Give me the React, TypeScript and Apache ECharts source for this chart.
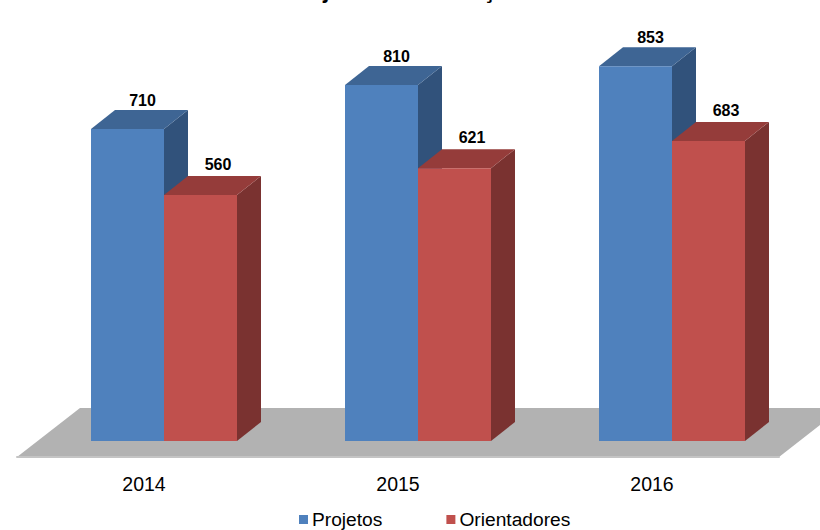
import React, { useEffect, useRef } from "react";
import * as echarts from "echarts";

const categories = ["2014", "2015", "2016"];
const projetos = [710, 810, 853];
const orientadores = [560, 621, 683];
const titleText = "Projetos e Orientações";

const FONT = '"Liberation Sans", Arial, sans-serif';
const DX = 24;
const DY = 19;

function barSeries(
  name: string,
  values: number[],
  front: string,
  top: string,
  side: string,
  startOffset: number,
  labelDx: number,
  labelDy: number
) {
  return {
    name,
    type: "custom",
    coordinateSystem: "cartesian2d",
    itemStyle: { color: front },
    encode: { x: 0, y: 1 },
    data: values.map((v, i) => [i, v]),
    renderItem: (_p: any, api: any) => {
      const idx = api.value(0);
      const val = api.value(1);
      const [cx, yTop] = api.coord([idx, val]);
      const [, yBase] = api.coord([idx, 0]);
      const band = api.size([1, 0])[0];
      const w = band * 0.2874;
      const x0 = cx + startOffset;
      const x1 = x0 + w;
      return {
        type: "group",
        children: [
          {
            type: "polygon",
            shape: { points: [[x1, yTop], [x1 + DX, yTop - DY], [x1 + DX, yBase - DY], [x1, yBase]] },
            style: { fill: side },
          },
          {
            type: "polygon",
            shape: { points: [[x0, yTop], [x0 + DX, yTop - DY], [x1 + DX, yTop - DY], [x1, yTop]] },
            style: { fill: top },
          },
          {
            type: "rect",
            shape: { x: x0, y: yTop, width: w, height: yBase - yTop },
            style: { fill: front },
          },
          {
            type: "text",
            style: {
              text: String(val),
              x: x0 + w / 2 + labelDx,
              y: yTop - labelDy,
              align: "center",
              verticalAlign: "middle",
              fill: "#000000",
              font: `bold 16px ${FONT}`,
            },
          },
        ],
      };
    },
  };
}

const floorSeries = {
  type: "custom",
  coordinateSystem: "cartesian2d",
  silent: true,
  encode: { x: 0, y: 1 },
  data: [[0, 0]],
  renderItem: (params: any, api: any) => {
    const rect = params.coordSys;
    const yBase = api.coord([0, 0])[1];
    const yFront = yBase + 16;
    const yBack = yBase - 33;
    const depth = 63;
    const left = rect.x;
    const right = rect.x + rect.width;
    return {
      type: "polygon",
      shape: {
        points: [
          [left, yFront],
          [left + depth, yBack],
          [right + depth, yBack],
          [right, yFront],
        ],
      },
      style: { fill: "#B2B2B2" },
    };
  },
};

export default function App() {
  const ref = useRef<HTMLDivElement>(null);
  useEffect(() => {
    document.body.style.margin = "0";
    const chart = echarts.init(ref.current!, null, { renderer: "svg" });
    chart.setOption({
      animation: false,
      backgroundColor: "#ffffff",
      grid: { left: 17, width: 762, top: 1.6, height: 439.4 },
      xAxis: {
        type: "category",
        data: categories,
        offset: 16,
        z: 5,
        axisLine: { onZero: false, lineStyle: { color: "#C4C4C4", width: 2 } },
        axisTick: { length: 5, lineStyle: { color: "#B0B0B0", width: 2 } },
        axisLabel: { color: "#000000", fontSize: 19.5, fontFamily: FONT, margin: 17 },
      },
      yAxis: { type: "value", min: 0, max: 1000, show: false },
      legend: {
        data: ["Projetos", "Orientadores"],
        left: 299,
        top: 510,
        itemWidth: 9,
        itemHeight: 9,
        itemGap: 64,
        icon: "rect",
        textStyle: { color: "#000000", fontSize: 19.2, fontFamily: FONT, padding: [0, 0, 0, -1] },
        padding: 0,
      },
      graphic: [
        {
          type: "text",
          x: 410,
          y: 1,
          style: {
            text: titleText,
            align: "center",
            verticalAlign: "bottom",
            fill: "#000000",
            font: `bold 23px ${FONT}`,
          },
        },
      ],
      series: [
        floorSeries,
        barSeries("Projetos", projetos, "#4F81BD", "#3E6594", "#31527B", -53, 15, 28.5),
        barSeries("Orientadores", orientadores, "#C0504D", "#953C3A", "#7A3230", 20, 17.5, 30.5),
      ],
    });
    return () => chart.dispose();
  }, []);
  return <div ref={ref} style={{ width: 820, height: 530 }} />;
}
